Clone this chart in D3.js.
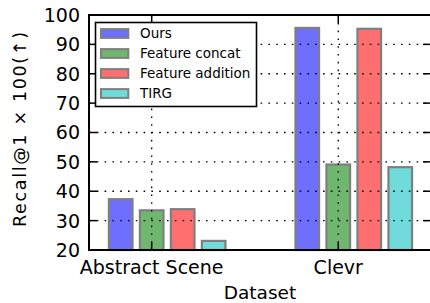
<!DOCTYPE html>
<html><head><meta charset="utf-8">
<script src="https://cdn.jsdelivr.net/npm/d3@7"></script>
<style>html,body{margin:0;padding:0;background:#fff;overflow:hidden}</style>
</head><body>
<svg id="c" width="430" height="303"></svg>
<script>
const categories = ["Abstract Scene", "Clevr"];
const series = ["Ours", "Feature concat", "Feature addition", "TIRG"];
const colors = ["#6f6fff", "#6fb76f", "#ff6f6f", "#6fdbdb"];
const ours = [37.3, 95.6];
const featureConcat = [33.5, 49.1];
const featureAddition = [33.9, 95.3];
const tirg = [23.1, 48.2];
const yTicks = [20, 30, 40, 50, 60, 70, 80, 90, 100];
const values = [ours, featureConcat, featureAddition, tirg];

const svg = d3.select("#c");
const L = 89, R = 431, T = 15, B = 250;
const font = "DejaVu Sans, Verdana, sans-serif";

const x = d3.scaleLinear().domain([-0.336, 1.497]).range([L, R]);
const y = d3.scaleLinear().domain([20, 100]).range([B, T]);
const unit = x(1) - x(0);
const step = 0.1661;
const barW = 0.1265 * unit;

// bars
series.forEach((s, j) => {
  svg.append("g").selectAll("rect").data(values[j]).join("rect")
    .attr("x", (d, i) => x(i + (j - 1) * step) - barW / 2)
    .attr("width", barW)
    .attr("y", d => y(d))
    .attr("height", d => y(20) - y(d))
    .attr("fill", colors[j])
    .attr("stroke", "#7f7f7f")
    .attr("stroke-width", 2.2);
});

// grid
const grid = svg.append("g").attr("stroke", "#000").attr("stroke-width", 1.3).attr("stroke-dasharray", "1.6 6.2");
grid.selectAll("line.h").data(yTicks).join("line")
  .attr("x1", L).attr("x2", R).attr("y1", d => y(d)).attr("y2", d => y(d));
grid.selectAll("line.v").data(categories).join("line")
  .attr("x1", (d, i) => x(i)).attr("x2", (d, i) => x(i)).attr("y1", T).attr("y2", B);

// ticks
const tk = svg.append("g").attr("stroke", "#000").attr("stroke-width", 1.5);
const tl = 8;
yTicks.forEach(v => {
  tk.append("line").attr("x1", L).attr("x2", L + tl).attr("y1", y(v)).attr("y2", y(v));
  tk.append("line").attr("x1", R).attr("x2", R - tl).attr("y1", y(v)).attr("y2", y(v));
});
categories.forEach((c, i) => {
  tk.append("line").attr("x1", x(i)).attr("x2", x(i)).attr("y1", B).attr("y2", B - tl);
  tk.append("line").attr("x1", x(i)).attr("x2", x(i)).attr("y1", T).attr("y2", T + tl);
});

// spines
svg.append("rect").attr("x", L).attr("y", T).attr("width", R - L).attr("height", B - T)
  .attr("fill", "none").attr("stroke", "#000").attr("stroke-width", 2);

// y tick labels
svg.append("g").selectAll("text").data(yTicks).join("text")
  .attr("x", L - 9).attr("y", d => y(d) + 6.9)
  .attr("text-anchor", "end").attr("font-family", font).attr("font-size", 19)
  .attr("fill", "#000").text(d => d);

// x tick labels
svg.append("g").selectAll("text").data(categories).join("text")
  .attr("x", (d, i) => x(i)).attr("y", 274)
  .attr("text-anchor", "middle").attr("font-family", font).attr("font-size", 19)
  .attr("fill", "#000").text(d => d);

// axis labels
svg.append("text").attr("x", (L + R) / 2).attr("y", 299)
  .attr("text-anchor", "middle").attr("font-family", font).attr("font-size", 18.5)
  .attr("fill", "#000").text("Dataset");
svg.append("text").attr("transform", "translate(26,129.5) rotate(-90)")
  .attr("text-anchor", "middle").attr("font-family", font).attr("font-size", 17.5)
  .attr("textLength", 195).attr("lengthAdjust", "spacing")
  .attr("fill", "#000").text("Recall@1 × 100(↑)");

// legend
const lg = svg.append("g");
lg.append("rect").attr("x", 95.5).attr("y", 22.5).attr("width", 161).attr("height", 84)
  .attr("fill", "#fff").attr("stroke", "#000").attr("stroke-width", 1.6);
series.forEach((s, j) => {
  const cy = 33.5 + j * 20;
  lg.append("rect").attr("x", 101).attr("y", cy - 4.4).attr("width", 27.3).attr("height", 8.8)
    .attr("fill", colors[j]).attr("stroke", "#7f7f7f").attr("stroke-width", 2);
  lg.append("text").attr("x", 140).attr("y", cy + 4.9)
    .attr("font-family", font).attr("font-size", 13.5).attr("fill", "#000").text(s);
});
</script>
</body></html>
